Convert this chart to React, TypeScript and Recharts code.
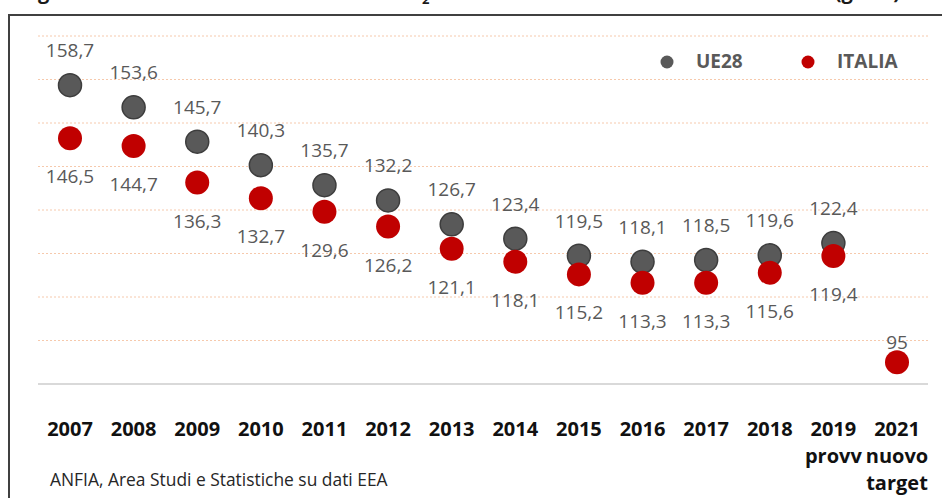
import React from 'react';
import { ComposedChart, Scatter, XAxis, YAxis, CartesianGrid } from 'recharts';

const years = ['2007', '2008', '2009', '2010', '2011', '2012', '2013', '2014', '2015', '2016', '2017', '2018', '2019', '2021'];
const yearExtraLines: string[][] = [[], [], [], [], [], [], [], [], [], [], [], [], ['provv'], ['nuovo', 'target']];
const ue28: (number | null)[] = [158.7, 153.6, 145.7, 140.3, 135.7, 132.2, 126.7, 123.4, 119.5, 118.1, 118.5, 119.6, 122.4, null];
const italia: (number | null)[] = [146.5, 144.7, 136.3, 132.7, 129.6, 126.2, 121.1, 118.1, 115.2, 113.3, 113.3, 115.6, 119.4, 95];
const seriesNames = ['UE28', 'ITALIA'];
const yTicks = [90, 100, 110, 120, 130, 140, 150, 160, 170];
const sourceText = 'ANFIA, Area Studi e Statistiche su dati EEA';
const titleStart = 'Figura 1 – Emissioni medie di CO';
const titleSub = '2';
const titleEnd = 'delle nuove autovetture immatricolate (g/km)';

const FONT = "'Open Sans', sans-serif";
const GRAY = '#595959';
const RED = '#C00000';

const data = years.map((y, i) => ({ year: y, ue: ue28[i], it: italia[i] }));

const fmt = (v: number) => (Number.isInteger(v) ? String(v) : v.toFixed(1).replace('.', ','));

const UeShape = (props: any) => {
  const { cx, cy, payload } = props;
  if (payload == null || payload.ue == null || cx == null || cy == null || isNaN(cy)) return <g />;
  return (
    <g>
      <circle cx={cx} cy={cy} r={11.5} fill={GRAY} stroke="#3d3d3d" strokeWidth={1.5} />
      <text x={cx} y={cy - 28} textAnchor="middle" fontFamily={FONT} fontSize={19} fill={GRAY}>
        {fmt(payload.ue)}
      </text>
    </g>
  );
};

const ItShape = (props: any) => {
  const { cx, cy, payload } = props;
  if (payload == null || payload.it == null || cx == null || cy == null || isNaN(cy)) return <g />;
  const above = payload.ue == null;
  return (
    <g>
      <circle cx={cx} cy={cy} r={12} fill={RED} />
      <text
        x={cx}
        y={above ? cy - 13 : cy + 45}
        textAnchor="middle"
        fontFamily={FONT}
        fontSize={19}
        fill={GRAY}
      >
        {fmt(payload.it)}
      </text>
    </g>
  );
};

const YearTick = (props: any) => {
  const { x, y, payload } = props;
  const idx = years.indexOf(String(payload.value));
  const lines = [String(payload.value), ...(idx >= 0 ? yearExtraLines[idx] : [])];
  return (
    <g>
      {lines.map((l, i) => (
        <text
          key={i}
          x={x}
          y={y + 52 + i * 27}
          textAnchor="middle"
          fontFamily={FONT}
          fontWeight={700}
          fontSize={20}
          fill="#111111"
        >
          {l}
        </text>
      ))}
    </g>
  );
};

export default function App() {
  return (
    <div
      style={{
        position: 'fixed',
        left: 0,
        top: 0,
        width: 942,
        height: 498,
        overflow: 'hidden',
        background: '#ffffff',
      }}
    >
      <div
        style={{
          position: 'absolute',
          left: 8,
          top: 14,
          width: 1000,
          height: 600,
          border: '2px solid #404040',
          boxSizing: 'border-box',
        }}
      />
      <div style={{ position: 'absolute', left: 0, top: 0 }}>
        <ComposedChart width={942} height={498} data={data} margin={{ top: 36, right: 14, bottom: 0, left: 38 }}>
          <CartesianGrid vertical={false} stroke="#F6C9AC" strokeDasharray="2 2" />
          <XAxis
            dataKey="year"
            type="category"
            height={114}
            padding={{ left: 32, right: 31 }}
            axisLine={{ stroke: '#D9D9D9', strokeWidth: 2 }}
            tickLine={false}
            tickSize={0}
            tickMargin={0}
            interval={0}
            tick={<YearTick />}
          />
          <YAxis hide type="number" domain={[90, 170]} ticks={yTicks} />
          <Scatter dataKey="ue" name={seriesNames[0]} shape={<UeShape />} isAnimationActive={false} />
          <Scatter dataKey="it" name={seriesNames[1]} shape={<ItShape />} isAnimationActive={false} />
        </ComposedChart>
      </div>
      <svg
        width={942}
        height={498}
        style={{ position: 'absolute', left: 0, top: 0, pointerEvents: 'none', overflow: 'hidden' }}
      >
        <text x={21} y={-1} fontFamily={FONT} fontWeight={700} fontSize={20} fill="#1a1a1a">
          {titleStart}
        </text>
        <text x={422} y={4} fontFamily={FONT} fontWeight={700} fontSize={13} fill="#1a1a1a">
          {titleSub}
        </text>
        <text x={900} y={-1} textAnchor="end" fontFamily={FONT} fontWeight={700} fontSize={20} fill="#1a1a1a">
          {titleEnd}
        </text>
        <circle cx={667} cy={62} r={6.5} fill={GRAY} />
        <text x={696} y={68} fontFamily={FONT} fontWeight={700} fontSize={19} fill={GRAY}>
          {seriesNames[0]}
        </text>
        <circle cx={808} cy={62} r={6.5} fill={RED} />
        <text x={837} y={68} fontFamily={FONT} fontWeight={700} fontSize={19} fill={GRAY}>
          {seriesNames[1]}
        </text>
        <text x={50} y={486} fontFamily={FONT} fontSize={17.4} fill="#262626">
          {sourceText}
        </text>
      </svg>
    </div>
  );
}
